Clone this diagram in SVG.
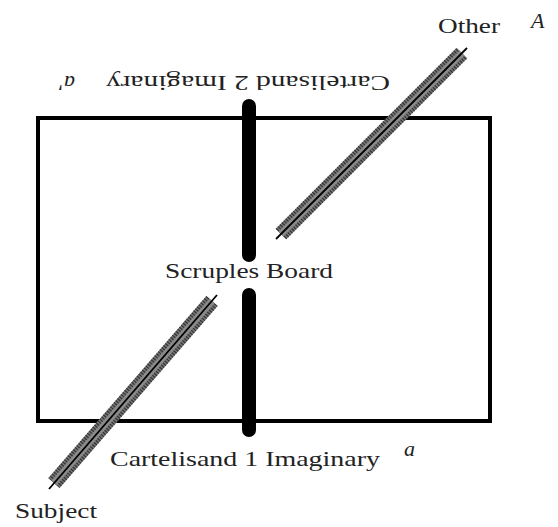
<svg xmlns="http://www.w3.org/2000/svg" width="558" height="527" viewBox="0 0 558 527">
<style>
text{fill:#222;font-family:"Liberation Serif",serif;font-size:22px}
.i{font-style:italic}
.band{stroke:#777;stroke-width:15;fill:none}
.hatch{stroke:#333;stroke-width:15;stroke-dasharray:1.2 1.5;fill:none}
.inner{stroke:#8a8a8a;stroke-width:7;fill:none}
.core{stroke:#000;stroke-width:1.8;fill:none}
.bar{stroke:#000;stroke-width:14;stroke-linecap:round;fill:none}
</style>
<rect width="558" height="527" fill="#fff"/>
<g id="board">
<rect x="38" y="118" width="452" height="303" fill="none" stroke="#000" stroke-width="4"/>
</g>
<g id="connectors">
<line class="bar" x1="249" y1="106" x2="249" y2="255"/>
<line class="bar" x1="249" y1="295" x2="249" y2="430"/>
<line class="band" x1="281" y1="234" x2="462" y2="53"/>
<line class="hatch" x1="281" y1="234" x2="462" y2="53"/>
<line class="inner" x1="281" y1="234" x2="462" y2="53"/>
<line class="core" x1="276" y1="239" x2="467" y2="48"/>
<line class="band" x1="212" y1="301" x2="54" y2="483"/>
<line class="hatch" x1="212" y1="301" x2="54" y2="483"/>
<line class="inner" x1="212" y1="301" x2="54" y2="483"/>
<line class="core" x1="217" y1="295" x2="49" y2="489"/>
</g>
<g id="scruples"><text x="249" y="278" text-anchor="middle" textLength="168" lengthAdjust="spacingAndGlyphs">Scruples Board</text></g>
<g id="cart1"><text x="245" y="466" text-anchor="middle" textLength="270" lengthAdjust="spacingAndGlyphs">Cartelisand 1 Imaginary</text></g>
<g id="a1"><text class="i" x="404" y="456">a</text></g>
<g id="cart2"><text transform="translate(248,76) rotate(180)" x="0" y="0" text-anchor="middle" textLength="284" lengthAdjust="spacingAndGlyphs">Cartelisand 2 Imaginary</text></g>
<g id="a2"><text class="i" transform="translate(75,76) rotate(180)" x="0" y="0">a'</text></g>
<g id="other"><text x="438" y="33" textLength="62" lengthAdjust="spacingAndGlyphs">Other</text></g>
<g id="A"><text class="i" x="531" y="28">A</text></g>
<g id="subject"><text x="15" y="518" textLength="82" lengthAdjust="spacingAndGlyphs">Subject</text></g>
</svg>
